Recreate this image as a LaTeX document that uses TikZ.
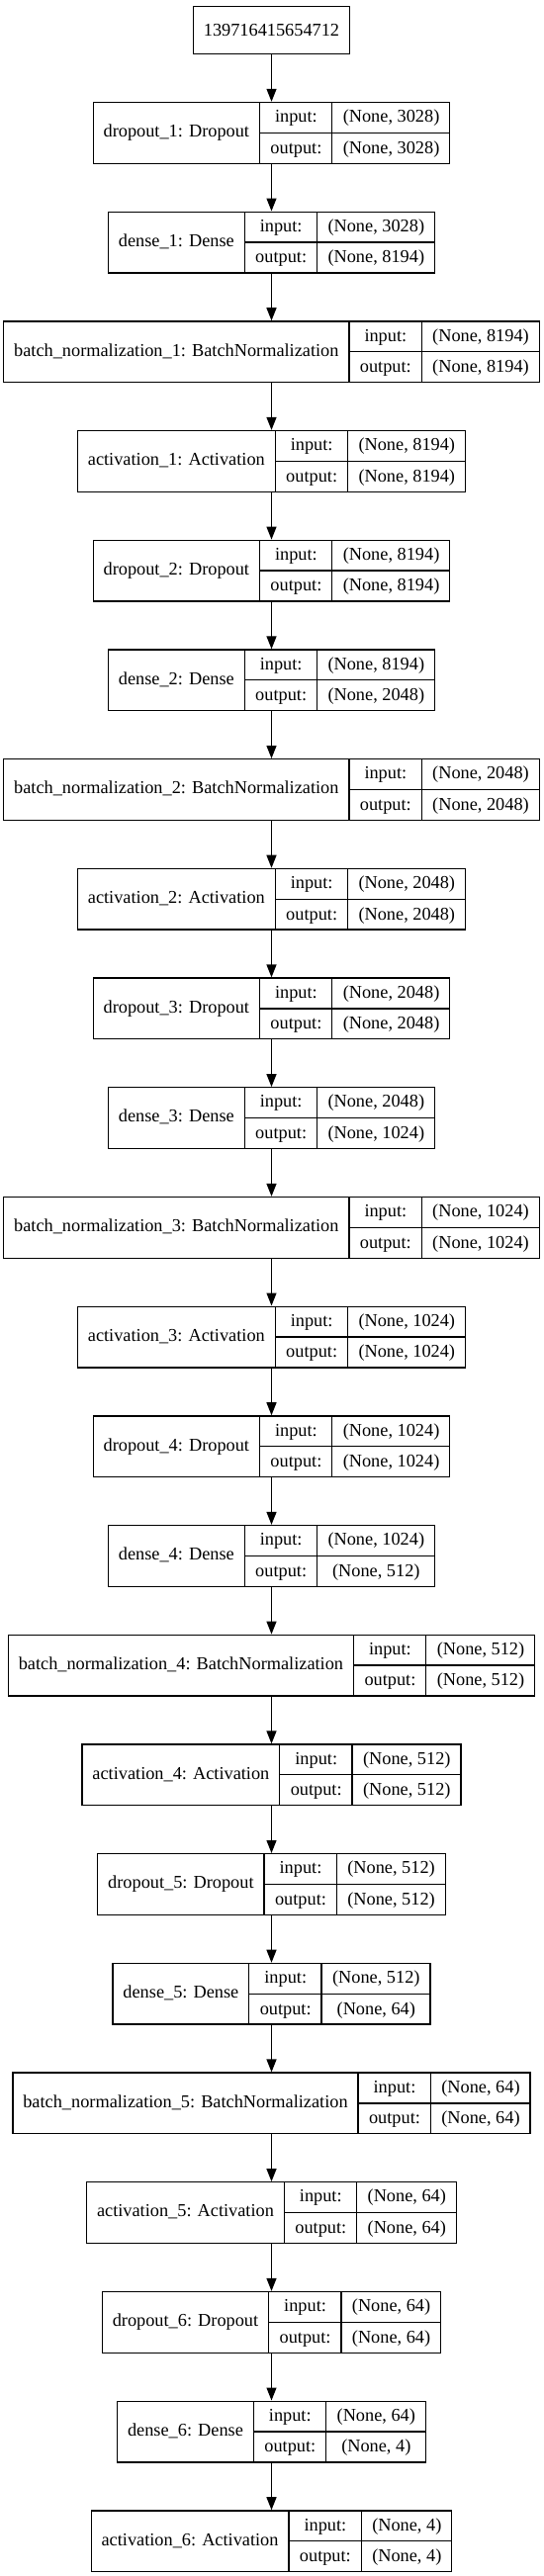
\documentclass[tikz,border=0pt]{standalone}
\usepackage{fontspec}
\setmainfont{Liberation Serif}
\usepackage{tikz}
\usetikzlibrary{arrows.meta}

\setlength{\tabcolsep}{10.4pt}
\setlength{\arrayrulewidth}{1.3pt}
\newcommand{\cellstrut}{\rule[-10pt]{0pt}{30.2pt}}
\newcommand{\iocell}[2]{\begin{tabular}{c}\cellstrut#1\\\hline\cellstrut#2\end{tabular}}
\newcommand{\layer}[3]{%
  \begin{tabular}{@{\hspace{\tabcolsep}}c@{\hspace{\tabcolsep}}|@{}c@{}|@{}c@{}}
    #1 & \iocell{input:}{output:} & \iocell{(None, #2)}{(None, #3)}
  \end{tabular}}

\begin{document}
\begin{tikzpicture}[x=1pt, y=-1pt, line width=1.3pt,
    font=\fontsize{18.3}{22}\selectfont,
    >={Triangle[length=13pt,width=10pt]},
    rec/.style={draw, inner sep=0pt}]
                \useasboundingbox (0,0) rectangle (549,2605);

                \node[draw, minimum height=48pt, inner xsep=10.4pt](in) at (274.5, 30.3) {139716415654712};
                \node[rec](drop1) at (274.5,  134.3) {\layer{dropout\_1: Dropout}{3028}{3028}};
                \node[rec](dense1) at (274.5,  245.0) {\layer{dense\_1: Dense}{3028}{8194}};
                \node[rec](bn1)   at (274.5,  355.7) {\layer{batch\_normalization\_1: BatchNormalization}{8194}{8194}};
                \node[rec](act1)  at (274.5,  466.4) {\layer{activation\_1: Activation}{8194}{8194}};
                \node[rec](drop2) at (274.5,  577.1) {\layer{dropout\_2: Dropout}{8194}{8194}};
                \node[rec](dense2) at (274.5,  687.8) {\layer{dense\_2: Dense}{8194}{2048}};
                \node[rec](bn2)   at (274.5,  798.5) {\layer{batch\_normalization\_2: BatchNormalization}{2048}{2048}};
                \node[rec](act2)  at (274.5,  909.2) {\layer{activation\_2: Activation}{2048}{2048}};
                \node[rec](drop3) at (274.5, 1019.9) {\layer{dropout\_3: Dropout}{2048}{2048}};
                \node[rec](dense3) at (274.5, 1130.6) {\layer{dense\_3: Dense}{2048}{1024}};
                \node[rec](bn3)   at (274.5, 1241.3) {\layer{batch\_normalization\_3: BatchNormalization}{1024}{1024}};
                \node[rec](act3)  at (274.5, 1352.0) {\layer{activation\_3: Activation}{1024}{1024}};
                \node[rec](drop4) at (274.5, 1462.7) {\layer{dropout\_4: Dropout}{1024}{1024}};
                \node[rec](dense4) at (274.5, 1573.4) {\layer{dense\_4: Dense}{1024}{512}};
                \node[rec](bn4)   at (274.5, 1684.1) {\layer{batch\_normalization\_4: BatchNormalization}{512}{512}};
                \node[rec](act4)  at (274.5, 1794.8) {\layer{activation\_4: Activation}{512}{512}};
                \node[rec](drop5) at (274.5, 1905.5) {\layer{dropout\_5: Dropout}{512}{512}};
                \node[rec](dense5) at (274.5, 2016.2) {\layer{dense\_5: Dense}{512}{64}};
                \node[rec](bn5)   at (274.5, 2126.9) {\layer{batch\_normalization\_5: BatchNormalization}{64}{64}};
                \node[rec](act5)  at (274.5, 2237.6) {\layer{activation\_5: Activation}{64}{64}};
                \node[rec](drop6) at (274.5, 2348.3) {\layer{dropout\_6: Dropout}{64}{64}};
                \node[rec](dense6) at (274.5, 2459.0) {\layer{dense\_6: Dense}{64}{4}};
                \node[rec](act6)  at (274.5, 2569.7) {\layer{activation\_6: Activation}{4}{4}};

                \draw[->] (in)     to (drop1);
                \draw[->] (drop1)  to (dense1);
                \draw[->] (dense1) to (bn1);
                \draw[->] (bn1)    to (act1);
                \draw[->] (act1)   to (drop2);
                \draw[->] (drop2)  to (dense2);
                \draw[->] (dense2) to (bn2);
                \draw[->] (bn2)    to (act2);
                \draw[->] (act2)   to (drop3);
                \draw[->] (drop3)  to (dense3);
                \draw[->] (dense3) to (bn3);
                \draw[->] (bn3)    to (act3);
                \draw[->] (act3)   to (drop4);
                \draw[->] (drop4)  to (dense4);
                \draw[->] (dense4) to (bn4);
                \draw[->] (bn4)    to (act4);
                \draw[->] (act4)   to (drop5);
                \draw[->] (drop5)  to (dense5);
                \draw[->] (dense5) to (bn5);
                \draw[->] (bn5)    to (act5);
                \draw[->] (act5)   to (drop6);
                \draw[->] (drop6)  to (dense6);
                \draw[->] (dense6) to (act6);
\end{tikzpicture}
\end{document}
